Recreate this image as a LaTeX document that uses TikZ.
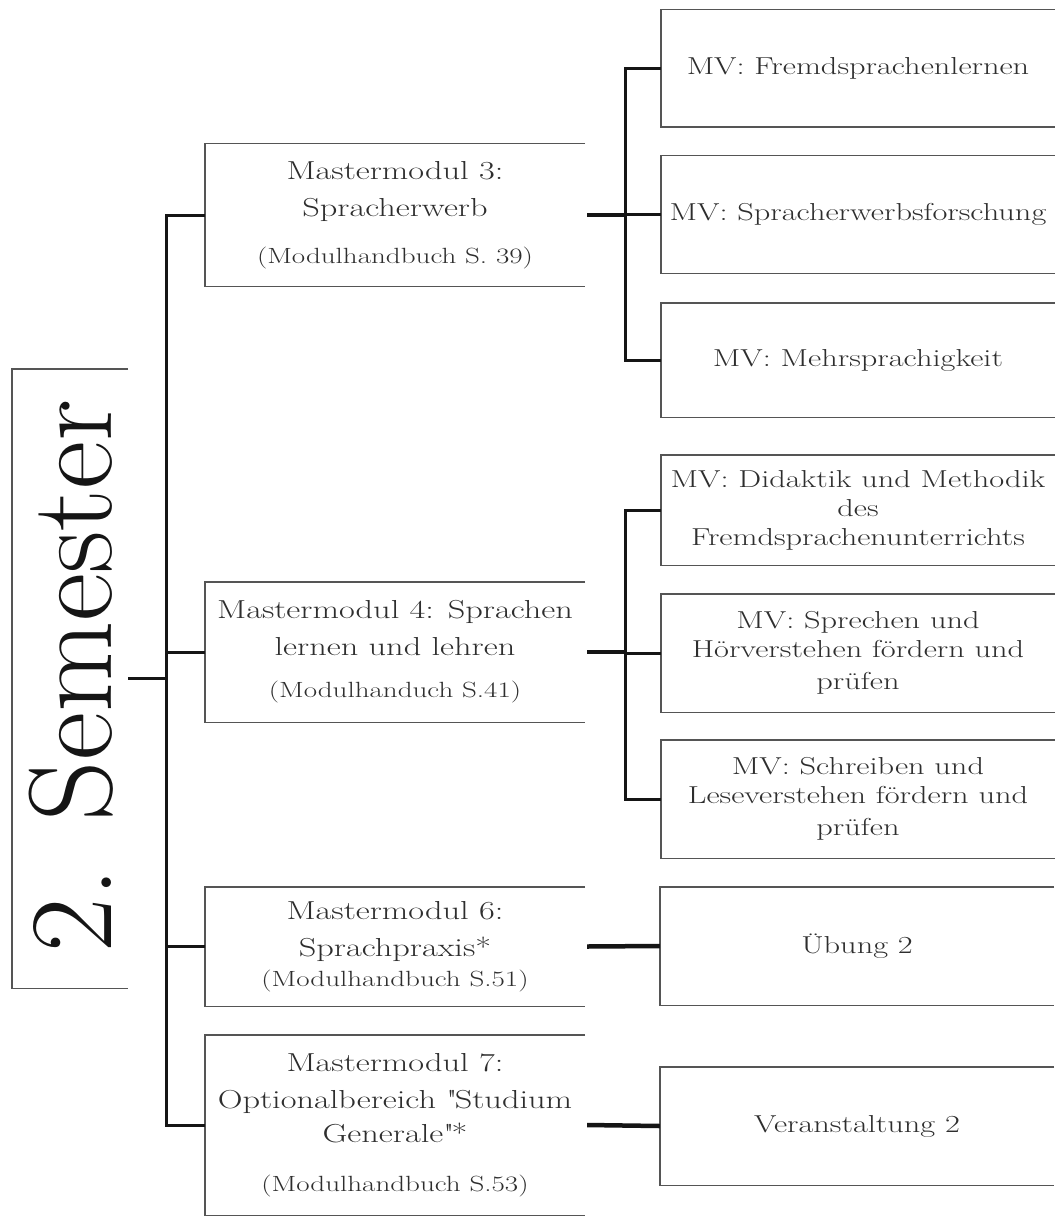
\documentclass[tikz,border=0pt]{standalone}
\usepackage{fontspec}
\setmainfont{Latin Modern Roman}[FakeStretch=1.32]
\newfontfamily\bigfont{Latin Modern Roman}
\definecolor{txt}{HTML}{2E2E2E}
\definecolor{boxc}{HTML}{555555}
\definecolor{linec}{HTML}{151515}
\newcommand{\mmfont}{\fontsize{26}{37}\selectfont}
\newcommand{\smfont}{\fontsize{22}{37}\selectfont}
\newcommand{\mvfont}{\fontsize{24.5}{29}\selectfont}
\tikzset{
  modbox/.style={inner sep=0pt, minimum width=380pt, text=txt, align=center, font=\mmfont},
  mvbox/.style={inner sep=0pt, minimum width=394pt, text=txt, align=center, font=\mvfont},
  boxline/.style={draw=boxc, line width=1.4pt},
  trunk/.style={draw=linec, line width=3pt},
  stub/.style={draw=linec, line width=4.5pt},
}
\newcommand{\openbox}[1]{\draw[boxline] (#1.north east) -- (#1.north west) -- (#1.south west) -- (#1.south east);}
\begin{document}
\begin{tikzpicture}[x=1pt,y=-1pt]
\useasboundingbox (0,0) rectangle (1054,1217);
\fill[white] (0,0) rectangle (1054,1217);
% semester
\node[inner sep=0pt, minimum width=116pt, minimum height=619pt] (sem) at (70,678.5) {};
\draw[boxline] (sem.north east) -- (sem.north west) -- (sem.south west) -- (sem.south east);
\node[rotate=90, text=linec, inner sep=0pt, font=\bigfont\fontsize{118}{120}\selectfont] (semtxt) at (71,676) {2. Semester};
\coordinate (tr) at (166,0);
\coordinate (tr2) at (625,0);
% modules
\node[modbox, minimum height=143pt] (mm3) at (395,215) {Mastermodul 3:\\ Spracherwerb\\[10pt] {\smfont (Modulhandbuch S. 39)}};
\node[modbox, minimum height=140pt] (mm4) at (395,652) {Mastermodul 4: Sprachen\\ lernen und lehren\\[5pt] {\smfont (Modulhanduch S.41)}};
\node[modbox, minimum height=119pt] (mm6) at (395,946.5) {Mastermodul 6:\\ Sprachpraxis*\\[-7pt] {\smfont (Modulhandbuch S.51)}};
\node[modbox, minimum height=180pt] (mm7) at (395,1125) {Mastermodul 7:\\ Optionalbereich \textquotedbl Studium\\[-3pt] Generale\textquotedbl *\\[12pt] {\smfont (Modulhandbuch S.53)}};
\foreach \n in {mm3,mm4,mm6,mm7} {\openbox{\n}}
% MV boxes
\node[mvbox, minimum height=117pt] (mv1) at (858,68.5) {MV: Fremdsprachenlernen};
\node[mvbox, minimum height=117pt] (mv2) at (858,214.5) {MV: Spracherwerbsforschung};
\node[mvbox, minimum height=114pt] (mv3) at (858,360) {MV: Mehrsprachigkeit};
\node[mvbox, minimum height=110pt] (mv4) at (858,510) {MV: Didaktik und Methodik\\ des\\ Fremdsprachenunterrichts};
\node[mvbox, minimum height=118pt] (mv5) at (858,653) {MV: Sprechen und\\ Hörverstehen fördern und\\[3pt] prüfen};
\node[mvbox, minimum height=118pt] (mv6) at (858,799) {MV: Schreiben und\\ Leseverstehen fördern und\\[3pt] prüfen};
\node[mvbox, minimum height=118pt] (ueb) at (857,946) {Übung 2};
\node[mvbox, minimum height=118pt] (ver) at (857,1126) {Veranstaltung 2};
\foreach \n in {mv1,mv2,mv3,mv4,mv5,mv6,ueb,ver} {\openbox{\n}}
% main trunk
\draw[trunk] (sem.east) -- (sem.east -| tr);
\draw[trunk] (mm3.west) -- (mm3.west -| tr) -- (mm7.west -| tr) -- (mm7.west);
\draw[trunk] (mm4.west -| tr) -- (mm4.west);
\draw[trunk] (mm6.west -| tr) -- (mm6.west);
% group 1
\draw[stub] ([xshift=2pt]mm3.east) -- (mm3.east -| tr2);
\draw[trunk] (mv1.west) -- (mv1.west -| tr2) -- (mv3.west -| tr2) -- (mv3.west);
\draw[trunk] (mv2.west -| tr2) -- (mv2.west);
% group 2
\draw[stub] ([xshift=2pt]mm4.east) -- (mm4.east -| tr2);
\draw[trunk] (mv4.west) -- (mv4.west -| tr2) -- (mv6.west -| tr2) -- (mv6.west);
\draw[trunk] (mv5.west -| tr2) -- (mv5.west);
% single links
\draw[stub] ([xshift=2pt]mm6.east) -- (ueb.west);
\draw[stub] ([xshift=2pt]mm7.east) -- (ver.west);
\end{tikzpicture}
\end{document}
